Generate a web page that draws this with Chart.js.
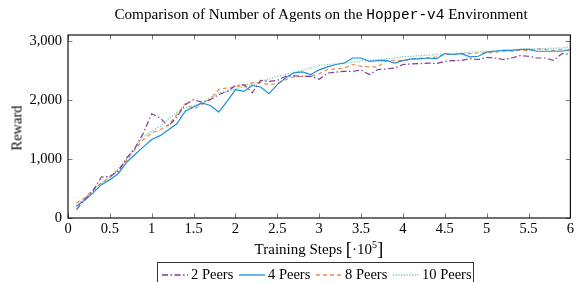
<!DOCTYPE html>
<html>
<head>
<meta charset="utf-8">
<script src="https://cdn.jsdelivr.net/npm/chart.js@4/dist/chart.umd.min.js"></script>
<style>
  body { margin: 0; background: #fff; }
  #wrap { position: relative; width: 576px; height: 282px; overflow: hidden; font-family: "Liberation Serif", serif; color: #000; }
  #chart { position: absolute; left: 0; top: 0; }
  .lbl { position: absolute; white-space: nowrap; }
  #title { left: 321px; top: 14px; transform: translate(-50%, -50%); font-size: 15.2px; }
  #title code { font-family: "Liberation Mono", monospace; font-size: 14.5px; }
  #ylabel { left: 17px; top: 128px; transform: translate(-50%, -50%) rotate(-90deg); font-size: 14.5px; }
  #xlabel { left: 319px; top: 249px; transform: translate(-50%, -50%); font-size: 15px; }
  #xlabel .br { font-size: 19px; vertical-align: -1px; }
  #xlabel sup { font-size: 10px; }
  #legend { position: absolute; left: 157px; top: 262px; width: 317px; height: 30px; border: 1px solid #333; box-sizing: border-box; font-size: 14.5px; }
  #legend .it { position: absolute; top: 3px; display: flex; align-items: center; white-space: nowrap; }
  #legend svg { margin-right: 3px; }
</style>
</head>
<body>
<div id="wrap">
  <canvas id="chart" width="576" height="282"></canvas>
  <div id="title" class="lbl">Comparison of Number of Agents on the <code>Hopper-v4</code> Environment</div>
  <div id="ylabel" class="lbl">Reward</div>
  <div id="xlabel" class="lbl">Training Steps <span class="br">[</span>·10<sup>5</sup><span class="br">]</span></div>
  <div id="legend"></div>
</div>
<script>
// training steps (x 10^5)
var steps = [0.1, 0.2, 0.3, 0.4, 0.5, 0.6, 0.7, 0.8, 0.9, 1.0,
             1.1, 1.2, 1.3, 1.4, 1.5, 1.6, 1.7, 1.8, 1.9, 2.0,
             2.1, 2.2, 2.3, 2.4, 2.5, 2.6, 2.7, 2.8, 2.9, 3.0,
             3.1, 3.2, 3.3, 3.4, 3.5, 3.6, 3.7, 3.8, 3.9, 4.0,
             4.1, 4.2, 4.3, 4.4, 4.5, 4.6, 4.7, 4.8, 4.9, 5.0,
             5.1, 5.2, 5.3, 5.4, 5.5, 5.6, 5.7, 5.8, 5.9, 6.0];

var peers2 = [140, 310, 465, 695, 705, 790, 1015, 1185, 1440, 1765,
              1695, 1555, 1710, 1920, 2005, 1960, 2005, 2090, 2145, 2240,
              2260, 2120, 2330, 2315, 2330, 2400, 2410, 2400, 2400, 2350,
              2455, 2470, 2485, 2485, 2505, 2430, 2515, 2525, 2540, 2600,
              2610, 2615, 2625, 2615, 2655, 2665, 2670, 2700, 2685, 2720,
              2710, 2685, 2710, 2750, 2740, 2710, 2710, 2670, 2785, 2770];

var peers4 = [200, 300, 425, 565, 650, 750, 945, 1075, 1205, 1330,
              1395, 1495, 1595, 1810, 1880, 1950, 1905, 1795, 1975, 2175,
              2145, 2245, 2220, 2105, 2260, 2375, 2460, 2475, 2430, 2510,
              2560, 2600, 2625, 2710, 2710, 2655, 2665, 2670, 2625, 2665,
              2695, 2695, 2710, 2695, 2785, 2770, 2785, 2730, 2740, 2810,
              2825, 2840, 2840, 2855, 2855, 2825, 2825, 2825, 2825, 2855];

var peers8 = [255, 340, 480, 595, 680, 820, 975, 1160, 1330, 1440,
              1495, 1580, 1750, 1940, 1845, 1920, 2015, 2175, 2205, 2220,
              2245, 2290, 2290, 2260, 2275, 2345, 2390, 2400, 2400, 2445,
              2515, 2525, 2540, 2600, 2570, 2560, 2560, 2665, 2670, 2670,
              2685, 2710, 2710, 2730, 2770, 2770, 2785, 2785, 2795, 2795,
              2810, 2825, 2825, 2840, 2840, 2865, 2855, 2840, 2855, 2825];

var peers10 = [210, 340, 450, 595, 705, 830, 990, 1185, 1385, 1470,
               1555, 1680, 1790, 1865, 1905, 1940, 2035, 2120, 2145, 2185,
               2220, 2260, 2315, 2355, 2400, 2430, 2470, 2505, 2540, 2585,
               2600, 2610, 2625, 2640, 2655, 2670, 2685, 2695, 2710, 2730,
               2740, 2750, 2755, 2770, 2780, 2785, 2795, 2810, 2815, 2825,
               2835, 2840, 2840, 2855, 2865, 2865, 2870, 2875, 2880, 2900];

var seriesNames = ['2 Peers', '4 Peers', '8 Peers', '10 Peers'];
var xTicks = [0, 0.5, 1, 1.5, 2, 2.5, 3, 3.5, 4, 4.5, 5, 5.5, 6];
var yTicks = [0, 1000, 2000, 3000];

var styles = [
    { color: '#7d3b9e', dash: [6, 2.5, 1.5, 2.5], width: 1.2 },
    { color: '#1b8fdc', dash: [], width: 1.2 },
    { color: '#f2884a', dash: [4, 3], width: 1.2 },
    { color: '#72c6b6', dash: [1.2, 1.5], width: 1.2 }
];

var values = [peers2, peers4, peers8, peers10];
var datasets = values.map(function (vals, i) {
    return {
        label: seriesNames[i],
        data: steps.map(function (s, j) { return { x: s, y: vals[j] }; }),
        borderColor: styles[i].color,
        borderDash: styles[i].dash,
        borderWidth: styles[i].width,
        pointRadius: 0,
        tension: 0,
        fill: false
    };
});

/**
 * Frame around the plot plus pgfplots-like inward tick marks
 */
var framePlugin = {
    id: 'frame',
    afterDatasetsDraw: function (chart) {
        let ctx = chart.ctx,
            a = chart.chartArea,
            xs = chart.scales.x,
            ys = chart.scales.y,
            len = 4.5;

        ctx.save();
        ctx.strokeStyle = '#777';
        ctx.lineWidth = 1;
        ctx.beginPath();
        for (let v of xTicks) {
            let px = Math.round(xs.getPixelForValue(v)) + 0.5;
            ctx.moveTo(px, a.bottom); ctx.lineTo(px, a.bottom - len);
            ctx.moveTo(px, a.top); ctx.lineTo(px, a.top + len);
        }
        for (let v of yTicks) {
            let py = Math.round(ys.getPixelForValue(v)) + 0.5;
            ctx.moveTo(a.left, py); ctx.lineTo(a.left + len, py);
            ctx.moveTo(a.right, py); ctx.lineTo(a.right - len, py);
        }
        ctx.stroke();

        ctx.strokeStyle = '#111';
        ctx.lineWidth = 1.2;
        ctx.strokeRect(a.left, a.top, a.right - a.left, a.bottom - a.top);
        ctx.restore();
    }
};

var tickFont = { family: '"Liberation Serif", serif', size: 14.5 };

new Chart(document.getElementById('chart'), {
    type: 'line',
    data: { datasets: datasets },
    options: {
        responsive: false,
        animation: false,
        devicePixelRatio: 1,
        layout: { padding: { top: 35, right: 4, left: 0, bottom: 0 } },
        plugins: {
            legend: { display: false },
            title: { display: false },
            tooltip: { enabled: false }
        },
        scales: {
            x: {
                type: 'linear',
                min: 0,
                max: 6,
                grid: { display: false, drawTicks: false },
                border: { display: false },
                afterBuildTicks: function (s) { s.ticks = xTicks.map(v => ({ value: v })); },
                afterFit: function (s) { s.height = 64; },
                ticks: {
                    color: '#000',
                    font: tickFont,
                    padding: 2,
                    maxRotation: 0,
                    callback: function (v) { return String(v); }
                }
            },
            y: {
                type: 'linear',
                min: 0,
                max: 3100,
                grid: { display: false, drawTicks: false },
                border: { display: false },
                afterBuildTicks: function (s) { s.ticks = yTicks.map(v => ({ value: v })); },
                afterFit: function (s) { s.width = 68; },
                ticks: {
                    color: '#000',
                    font: tickFont,
                    padding: 6,
                    callback: function (v) { return v.toLocaleString('en-US'); }
                }
            }
        }
    },
    plugins: [framePlugin]
});

// legend built from the same series names and styles
var legendPos = [4, 81, 158, 235];
var $legend = document.getElementById('legend');
seriesNames.forEach(function (name, i) {
    let st = styles[i];
    let item = document.createElement('div');
    item.className = 'it';
    item.style.left = legendPos[i] + 'px';
    item.innerHTML = '<svg width="26" height="6"><line x1="0" y1="3" x2="26" y2="3" stroke="' + st.color +
        '" stroke-width="1.3" stroke-dasharray="' + (st.dash.length ? st.dash.join(',') : 'none') + '"/></svg>' +
        '<span>' + name + '</span>';
    $legend.appendChild(item);
});
</script>
</body>
</html>
